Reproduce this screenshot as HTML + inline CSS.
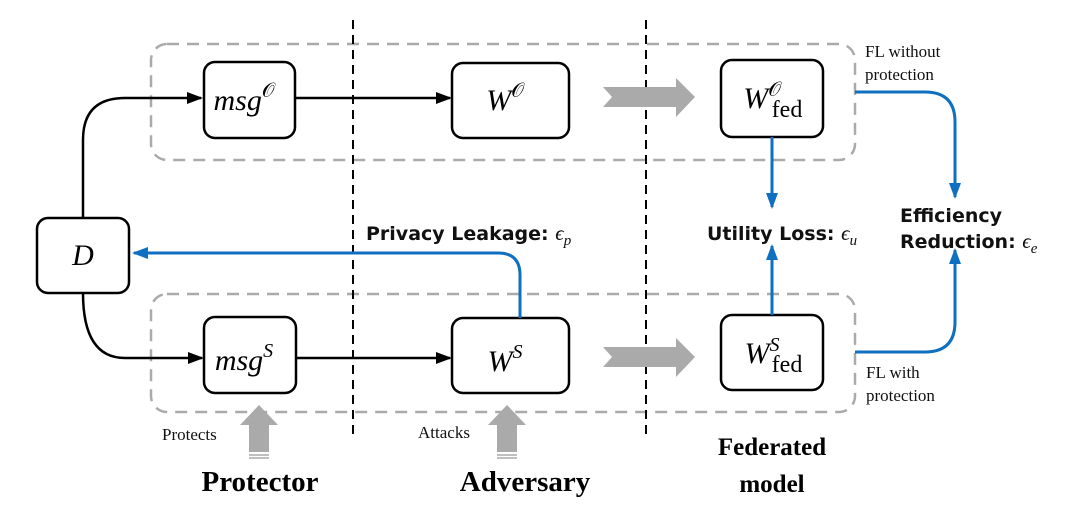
<!DOCTYPE html>
<html><head><meta charset="utf-8"><style>
body{margin:0;background:#fff;width:1082px;height:520px;overflow:hidden}
svg{display:block}
.m{font-family:"Liberation Serif",serif;font-style:italic}
.s{font-family:"DejaVu Sans","Liberation Sans",sans-serif}
.t{font-family:"Liberation Serif",serif}
</style></head><body>
<svg width="1082" height="520" viewBox="0 0 1082 520">
<defs>
<marker id="ab" markerWidth="16" markerHeight="16" refX="14" refY="8" orient="auto" markerUnits="userSpaceOnUse"><path d="M0,2 L16,8 L0,14 z" fill="#0f6fc0"/></marker>
<marker id="ab2" markerWidth="16" markerHeight="16" refX="14" refY="8" orient="auto" markerUnits="userSpaceOnUse"><path d="M0,2 L16,8 L0,14 z" fill="#000"/></marker>
</defs>
<g fill="none" stroke="#aaa" stroke-width="2.5" stroke-dasharray="12,8">
<rect x="151" y="44" width="704" height="116" rx="16"/>
<rect x="151" y="294" width="704" height="118" rx="16"/>
</g>
<g stroke="#000" stroke-width="2" stroke-dasharray="9,6">
<line x1="353" y1="20" x2="353" y2="440"/>
<line x1="646" y1="20" x2="646" y2="440"/>
</g>
<g fill="#aaa">
<path d="M603,87 L676,87 L676,78 L695,97 L676,117 L676,107 L603,107 L612,97 z"/>
<path d="M603,347 L676,347 L676,338 L695,357 L676,377 L676,367 L603,367 L612,357 z"/>
<path d="M240,425 L259,405 L278,425 L269,425 L269,452 L249,452 L249,425 z"/>
<path d="M488,425 L507,405 L526,425 L517,425 L517,452 L497,452 L497,425 z"/>
</g>
<g stroke="#aaa" stroke-width="1.5"><line x1="249" y1="455" x2="269" y2="455"/><line x1="249" y1="458" x2="269" y2="458"/><line x1="497" y1="455" x2="517" y2="455"/><line x1="497" y1="458" x2="517" y2="458"/></g>
<g fill="none" stroke="#000" stroke-width="2.5">
<path d="M83,218 L83,140 Q83,98 125,98 L201,98" marker-end="url(#ab2)"/>
<path d="M83,293 Q83,358 125,358 L202,358" marker-end="url(#ab2)"/>
<line x1="295" y1="98" x2="450" y2="98" marker-end="url(#ab2)"/>
<line x1="296" y1="358" x2="450" y2="358" marker-end="url(#ab2)"/>
</g>
<g fill="#fff" stroke="#000" stroke-width="2.5">
<rect x="37" y="218" width="92" height="75" rx="11"/>
<rect x="204" y="62" width="91" height="76" rx="11"/>
<rect x="452" y="63" width="117" height="75" rx="11"/>
<rect x="721" y="60" width="102" height="77" rx="11"/>
<rect x="204" y="317" width="92" height="76" rx="11"/>
<rect x="452" y="318" width="117" height="75" rx="11"/>
<rect x="721" y="315" width="102" height="75" rx="11"/>
</g>
<g fill="none" stroke="#0f6fc0" stroke-width="3">
<line x1="772" y1="137" x2="772" y2="207" marker-end="url(#ab)"/>
<line x1="772" y1="315" x2="772" y2="246" marker-end="url(#ab)"/>
<path d="M520,318 L520,275 Q520,253 498,253 L134,253" marker-end="url(#ab)"/>
<path d="M855,92 L925,92 Q955,92 955,122 L955,197" marker-end="url(#ab)"/>
<path d="M855,352 L925,352 Q955,352 955,322 L955,250" marker-end="url(#ab)"/>
</g>
<g class="m" font-size="30" text-anchor="middle">
<text x="83" y="265">D</text>
<text x="244" y="110">msg<tspan font-size="20" dy="-13" font-style="normal">𝒪</tspan></text>
<text x="505" y="110">W<tspan font-size="20" dy="-13" font-style="normal">𝒪</tspan></text>
<text x="244" y="370">msg<tspan font-size="20" dy="-13">S</tspan></text>
<text x="505" y="371">W<tspan font-size="20" dy="-13">S</tspan></text>
<text x="762" y="108">W<tspan font-size="20" dy="-12" font-style="normal">𝒪</tspan></text>
<text x="762" y="363">W<tspan font-size="20" dy="-12">S</tspan></text>
</g>
<g class="t" font-size="24" text-anchor="middle"><text x="787" y="117">fed</text><text x="787" y="372">fed</text></g>
<g class="s" font-size="19" font-weight="bold" fill="#111">
<text x="366" y="240">Privacy Leakage: <tspan class="m" font-weight="normal" font-size="21">ϵ<tspan font-size="15" dy="5">p</tspan></tspan></text>
<text x="707" y="240">Utility Loss: <tspan class="m" font-weight="normal" font-size="21">ϵ<tspan font-size="15" dy="5">u</tspan></tspan></text>
<text x="900" y="222">Efficiency</text>
<text x="900" y="248">Reduction: <tspan class="m" font-weight="normal" font-size="21">ϵ<tspan font-size="15" dy="5">e</tspan></tspan></text>
</g>
<g class="t" font-size="17" fill="#111">
<text x="865" y="57">FL without</text><text x="865" y="80">protection</text>
<text x="866" y="378">FL with</text><text x="866" y="401">protection</text>
<text x="162" y="440">Protects</text><text x="418" y="438">Attacks</text>
</g>
<g class="t" font-size="29" font-weight="bold" text-anchor="middle">
<text x="260" y="491">Protector</text><text x="525" y="491">Adversary</text>
</g>
<g class="t" font-size="25" font-weight="bold" text-anchor="middle">
<text x="772" y="455">Federated</text><text x="772" y="492">model</text>
</g>
</svg>
</body></html>
